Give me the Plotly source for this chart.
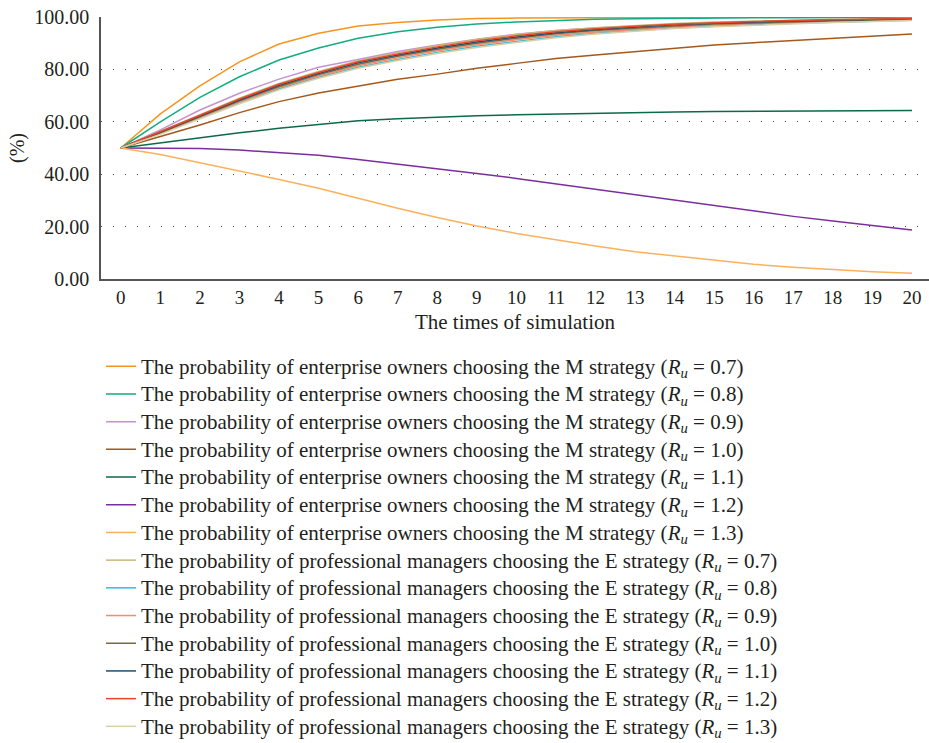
import plotly.graph_objects as go

t = list(range(21))

# Enterprise owners choosing M strategy
m_07 = [50, 63.0, 73.7, 82.9, 89.7, 93.8, 96.6, 97.9, 98.9, 99.4, 99.6, 99.7, 99.8, 99.85, 99.9, 99.9, 99.95, 99.95, 99.97, 99.98, 99.99]
m_08 = [50, 60.0, 69.3, 77.2, 83.6, 88.2, 91.9, 94.4, 96.1, 97.3, 98.1, 98.7, 99.1, 99.3, 99.5, 99.6, 99.7, 99.75, 99.8, 99.85, 99.9]
m_09 = [50, 56.9, 64.5, 70.9, 76.3, 80.8, 83.8, 86.8, 89.3, 91.5, 93.4, 94.8, 95.8, 96.6, 97.3, 97.8, 98.2, 98.5, 98.8, 99.0, 99.2]
m_10 = [50, 54.3, 58.8, 63.5, 67.7, 71.0, 73.7, 76.2, 78.2, 80.4, 82.3, 84.2, 85.5, 86.8, 88.0, 89.3, 90.2, 91.0, 91.9, 92.7, 93.5]
m_11 = [50, 52.0, 53.9, 55.8, 57.5, 59.0, 60.4, 61.2, 61.8, 62.3, 62.7, 63.0, 63.3, 63.5, 63.7, 63.9, 64.0, 64.1, 64.2, 64.3, 64.3]
m_12 = [50, 50.0, 49.8, 49.2, 48.2, 47.2, 45.6, 43.9, 42.2, 40.3, 38.4, 36.3, 34.2, 32.1, 30.0, 27.9, 25.8, 23.9, 22.1, 20.4, 18.7]
m_13 = [50, 47.5, 44.4, 41.3, 38.0, 34.6, 30.8, 27.0, 23.5, 20.2, 17.4, 14.9, 12.6, 10.4, 8.8, 7.0, 5.6, 4.5, 3.6, 2.8, 2.2]

# Professional managers choosing E strategy
e_07 = [50, 56.4, 62.8, 69.0, 74.6, 79.2, 83.3, 86.4, 89.1, 91.4, 93.3, 94.8, 95.9, 96.8, 97.5, 98.1, 98.5, 98.9, 99.1, 99.3, 99.5]
e_08 = [50, 55.4, 61.4, 67.2, 72.6, 77.0, 80.8, 83.8, 86.5, 88.8, 90.7, 92.5, 93.8, 94.9, 95.8, 96.5, 97.1, 97.6, 98.0, 98.4, 98.8]
e_09 = [50, 55.6, 61.7, 67.6, 73.1, 77.5, 81.4, 84.4, 87.1, 89.4, 91.3, 93.0, 94.3, 95.3, 96.2, 96.9, 97.5, 98.0, 98.3, 98.6, 99.0]
e_10 = [50, 55.8, 62.0, 68.0, 73.5, 78.0, 82.0, 85.0, 87.7, 90.0, 91.9, 93.6, 94.8, 95.8, 96.6, 97.3, 97.8, 98.3, 98.6, 98.9, 99.2]
e_11 = [50, 56.0, 62.2, 68.3, 73.9, 78.4, 82.5, 85.5, 88.2, 90.5, 92.4, 94.0, 95.2, 96.2, 97.0, 97.6, 98.1, 98.5, 98.8, 99.1, 99.3]
e_12 = [50, 56.2, 62.5, 68.7, 74.3, 78.8, 82.9, 85.9, 88.6, 90.9, 92.8, 94.4, 95.5, 96.5, 97.2, 97.8, 98.3, 98.7, 99.0, 99.2, 99.4]
e_13 = [50, 55.2, 61.1, 66.9, 72.2, 76.6, 80.4, 83.4, 86.1, 88.4, 90.3, 92.1, 93.5, 94.6, 95.6, 96.3, 96.9, 97.4, 97.9, 98.3, 98.7]

ru_labels = ["0.7", "0.8", "0.9", "1.0", "1.1", "1.2", "1.3"]
m_series = [m_07, m_08, m_09, m_10, m_11, m_12, m_13]
e_series = [e_07, e_08, e_09, e_10, e_11, e_12, e_13]
m_colors = ["#f7941d", "#12ad7e", "#c592d2", "#a5581c", "#0b6a48", "#7a2e9c", "#fbb15c"]
e_colors = ["#c8b878", "#3bbad4", "#f48a70", "#7a6a3c", "#1c4f6e", "#e8472c", "#d9d0a4"]

y_ticks = [0, 20, 40, 60, 80, 100]
x_ticks = list(range(21))

def label(who, strat, ru):
    return (f'<span style="font-size:21px">The probability of {who} choosing the {strat} strategy '
            f'(<i>R</i><sub><i>u</i></sub> = {ru})</span>')

fig = go.Figure()
for i, (ys, col, ru) in enumerate(zip(m_series, m_colors, ru_labels)):
    fig.add_trace(go.Scatter(
        x=t, y=ys, mode="lines", line=dict(color=col, width=1.5),
        name=label("enterprise owners", "M", ru)))
for i, (ys, col, ru) in enumerate(zip(e_series, e_colors, ru_labels)):
    fig.add_trace(go.Scatter(
        x=t, y=ys, mode="lines", line=dict(color=col, width=1.5),
        name=label("professional managers", "E", ru)))

font_family = "Liberation Serif, DejaVu Serif, serif"
fig.update_layout(
    width=929, height=743,
    margin=dict(l=101, r=0, t=17, b=464, autoexpand=False),
    paper_bgcolor="white", plot_bgcolor="white",
    font=dict(family=font_family, size=18, color="#231f20"),
    showlegend=True,
    legend=dict(x=0.0, y=-0.261, xanchor="left", yanchor="top",
                font=dict(family=font_family, size=19, color="#231f20"),
                tracegroupgap=0, bgcolor="rgba(0,0,0,0)", maxheight=800),
    xaxis=dict(range=[-0.5, 20.43], tickmode="array", tickvals=x_ticks,
               showgrid=False, zeroline=False, showline=True,
               linecolor="#555555", linewidth=1.5, ticks="",
               title=dict(text="The times of simulation", font=dict(size=21), standoff=8),
               tickfont=dict(size=19)),
    yaxis=dict(range=[0, 100], tickmode="array", tickvals=y_ticks,
               tickformat=".2f", showgrid=True, gridcolor="#444444",
               griddash="1px,11px", gridwidth=1.2, zeroline=False,
               showline=True, linecolor="#555555", linewidth=1.5, ticks="",
               ticklabelstandoff=6,
               title=dict(text="(%)", font=dict(size=20), standoff=4),
               tickfont=dict(size=20)),
)

fig.write_html("out.html")
